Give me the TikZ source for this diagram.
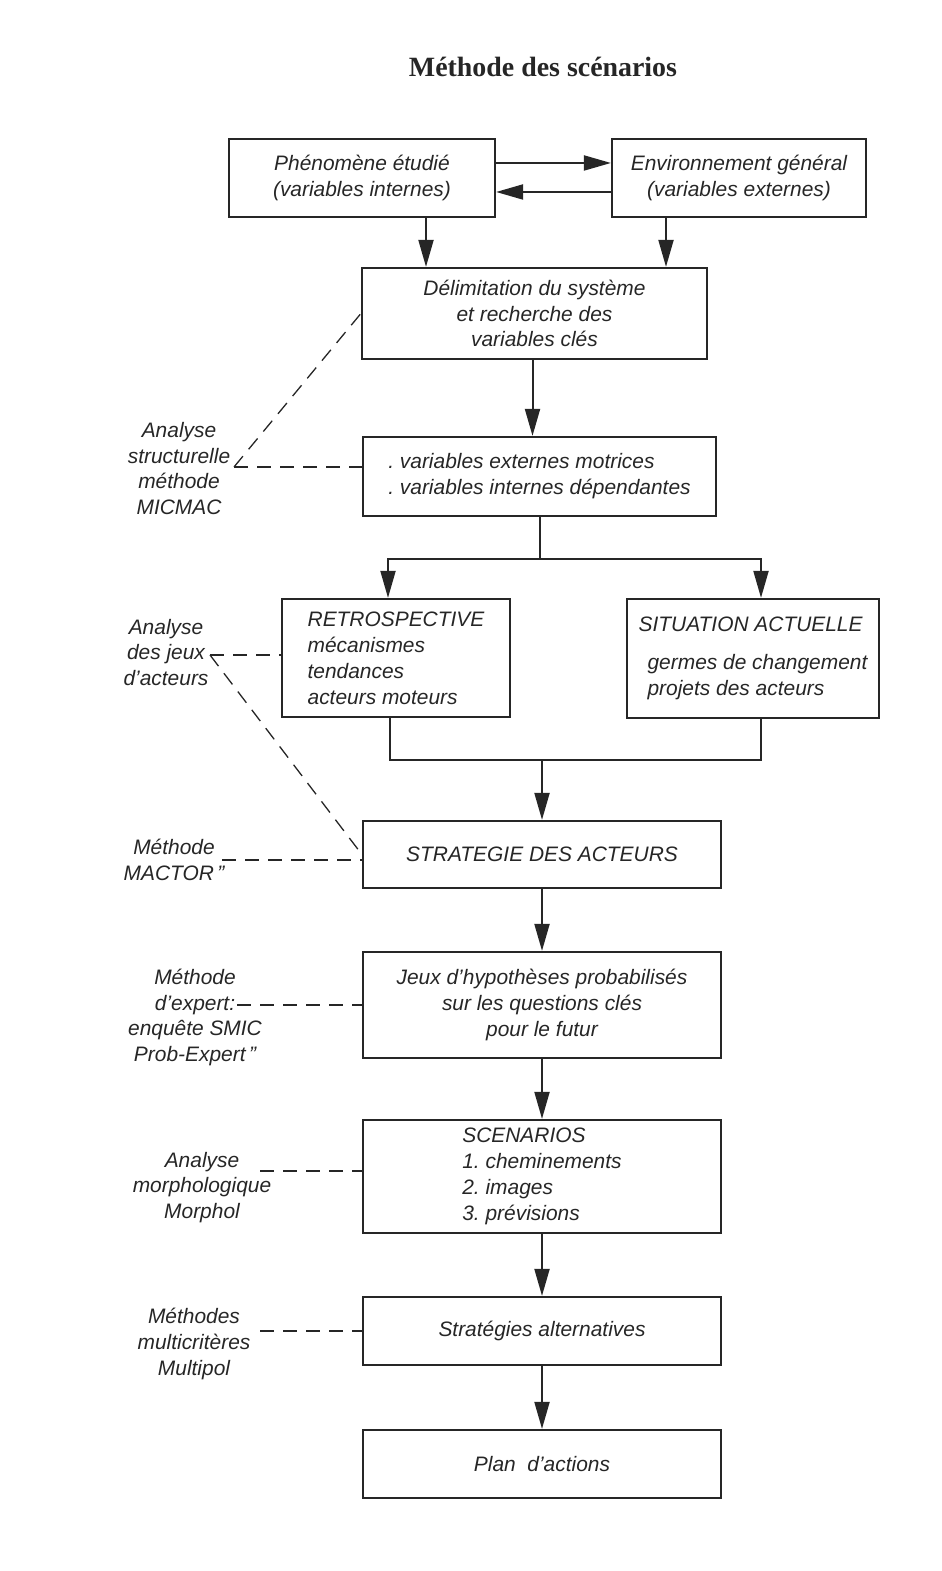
\documentclass[tikz,border=0pt]{standalone}
\usepackage{fontspec}
\setmainfont{Liberation Serif}
\setsansfont{Liberation Sans}
\usepackage{tikz}
\usetikzlibrary{arrows.meta,positioning}
\definecolor{ink}{gray}{0.15}
\frenchspacing
\tikzstyle{stage}=[draw=ink,line width=2.2bp,inner sep=0pt,align=center,text=ink,font=\sffamily\itshape\fontsize{21}{26}\selectfont]
\tikzstyle{method}=[inner sep=0pt,align=center,text=ink,font=\sffamily\itshape\fontsize{21}{26}\selectfont]
\tikzstyle{flow}=[->,draw=ink,line width=2bp]
\tikzstyle{joint}=[draw=ink,line width=2bp]
\tikzstyle{link}=[draw=ink,line width=1.3bp,dash pattern=on 14bp off 9bp]

\begin{document}
\begin{tikzpicture}[>={Triangle[length=27bp,width=15bp]},line join=miter]
	%%
	\useasboundingbox (0bp,0bp) rectangle (942bp,1571bp);
	\node (title) at (543bp,1504bp) [text=ink,font=\bfseries\fontsize{28}{32}\selectfont] {Méthode des scénarios};
	  \node (phen) at (362bp,1393bp) [stage,minimum width=266bp,minimum height=78bp] {Phénomène étudié\\(variables internes)};
	  \node (env) at (739bp,1393bp) [stage,minimum width=254bp,minimum height=78bp] {Environnement général\\(variables externes)};
	  \node (delim) at (534.5bp,1257.5bp) [stage,minimum width=345bp,minimum height=91bp] {Délimitation du système\\et recherche des\\variables clés};
	  \node (var) at (539.5bp,1094.5bp) [stage,minimum width=353bp,minimum height=79bp,align=left] {. variables externes motrices\\. variables internes dépendantes};
	  \node (retro) at (396bp,913bp) [stage,minimum width=228bp,minimum height=118bp,align=left] {RETROSPECTIVE\\mécanismes\\tendances\\acteurs moteurs};
	  \node (sit) at (753bp,912.5bp) [stage,minimum width=252bp,minimum height=119bp,align=left] {SITUATION ACTUELLE\\[12bp]\hspace*{9bp}germes de changement\\\hspace*{9bp}projets des acteurs};
	  \node (strat) at (542bp,716.5bp) [stage,minimum width=358bp,minimum height=67bp] {STRATEGIE DES ACTEURS};
	  \node (jeux) at (542bp,566bp) [stage,minimum width=358bp,minimum height=106bp] {Jeux d'hypothèses probabilisés\\sur les questions clés\\pour le futur};
	  \node (scen) at (542bp,394.5bp) [stage,minimum width=358bp,minimum height=113bp,align=left] {SCENARIOS\\1. cheminements\\2. images\\3. prévisions};
	  \node (alt) at (542bp,240bp) [stage,minimum width=358bp,minimum height=68bp] {Stratégies alternatives};
	  \node (plan) at (542bp,107bp) [stage,minimum width=358bp,minimum height=68bp] {Plan\ \ d'actions};
	  \node (micmac) at (179bp,1102.5bp) [method] {Analyse\\structurelle\\méthode\\MICMAC};
	  \node (acteurs) at (166bp,918.5bp) [method] {Analyse\\des jeux\\d'acteurs};
	  \node (mactor) at (174bp,711.5bp) [method] {Méthode\\MACTOR\,''};
	  \node (expert) at (195bp,553.5bp) [method] {Méthode\\d'expert:\\enquête SMIC\\Prob-Expert\,''};
	  \node (morphol) at (202bp,383.5bp) [method] {Analyse\\morphologique\\Morphol};
	  \node (multipol) at (194bp,227bp) [method] {Méthodes\\multicritères\\Multipol};
	  \coordinate (split) at (540bp,1012bp);
	  \coordinate (join) at (542bp,811bp);
	  \coordinate (mic-a) at (234bp,1104bp);
	  \coordinate (act-a) at (210bp,916bp);
	  \coordinate (mac-a) at (222bp,711bp);
	  \coordinate (exp-a) at (237bp,566bp);
	  \coordinate (mor-a) at (260bp,400bp);
	  \coordinate (mul-a) at (260bp,240bp);
	  \draw [flow] ([yshift=15bp]phen.east) -- ([yshift=15bp]phen.east -| env.west);
	  \draw [flow] ([yshift=-14bp]env.west) -- ([yshift=-14bp]env.west -| phen.east);
	  \draw [flow] ([xshift=64bp]phen.south) -- ([xshift=64bp]phen.south |- delim.north);
	  \draw [flow] ([xshift=-73bp]env.south) -- ([xshift=-73bp]env.south |- delim.north);
	  \draw [flow] ([xshift=-2bp]delim.south) -- ([xshift=-2bp]delim.south |- var.north);
	  \draw [joint] (split |- var.south) -- (split);
	  \draw [flow] (split) -| ([xshift=-8bp]retro.north);
	  \draw [flow] (split) -| ([xshift=8bp]sit.north);
	  \draw [joint] ([xshift=-6bp]retro.south) |- (join);
	  \draw [joint] ([xshift=8bp]sit.south) |- (join);
	  \draw [flow] (join) -- (join |- strat.north);
	  \draw [flow] (strat) -- (jeux);
	  \draw [flow] (jeux) -- (scen);
	  \draw [flow] (scen) -- (alt);
	  \draw [flow] (alt) -- (plan);
	  \draw [link] (mic-a) -- (delim.west);
	  \draw [link] (mic-a) -- (var.west |- mic-a);
	  \draw [link] (act-a) -- (retro.west |- act-a);
	  \draw [link] (act-a) -- (strat.west);
	  \draw [link] (mac-a) -- (strat.west |- mac-a);
	  \draw [link] (exp-a) -- (jeux.west);
	  \draw [link] (mor-a) -- (scen.west |- mor-a);
	  \draw [link] (mul-a) -- (alt.west);
	%
\end{tikzpicture}
\end{document}
